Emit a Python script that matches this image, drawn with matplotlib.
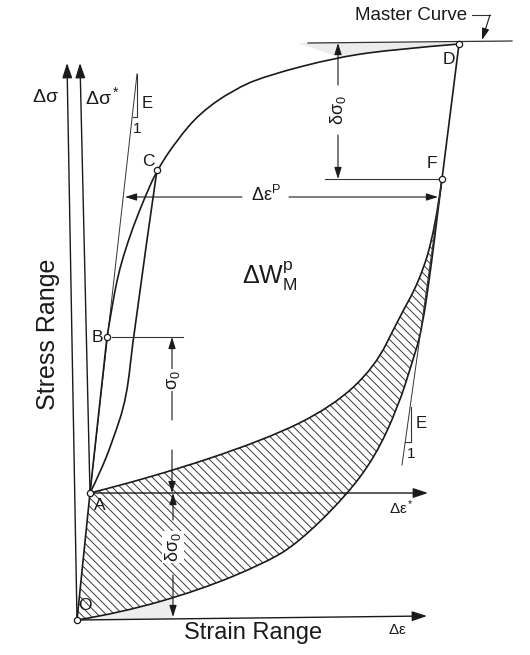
import numpy as np
import matplotlib
matplotlib.use("Agg")
import matplotlib.pyplot as plt
from matplotlib.path import Path
from matplotlib.patches import PathPatch, Polygon

plt.rcParams['font.family'] = ['Liberation Sans', 'DejaVu Sans']
plt.rcParams['mathtext.fontset'] = 'custom'
plt.rcParams['mathtext.rm'] = 'Liberation Sans'
plt.rcParams['mathtext.it'] = 'Liberation Sans'
plt.rcParams['mathtext.default'] = 'regular'
plt.rcParams['hatch.linewidth'] = 0.7

# schematic strain (x) / stress (y) units, origin at O
pt_O = (0, 0)
pt_A = (13, 127)
pt_B = (30, 283)
pt_C = (80, 450)
pt_D = (382, 576)
pt_F = (365, 441)

# master curve B -> C -> D (A -> B is the elastic part)
master_x = [30, 35, 40, 46, 56, 68, 80, 100, 123, 156, 188, 261, 321, 382]
master_y = [283, 313, 340, 363, 393, 423, 450, 480, 507, 530, 544, 563, 571, 576]
# unloading line from C back to A
unload_x = [80, 56, 50, 36, 23, 13]
unload_y = [450, 283, 223, 180, 147, 127]
# upper loop branch A -> F
upper_x = [13, 73, 188, 255, 298, 321, 343, 358, 365]
upper_y = [127, 142, 180, 213, 253, 300, 340, 390, 441]
# lower loop branch O -> F
lower_x = [0, 43, 123, 188, 221, 268, 298, 321, 335, 345, 355, 361, 365]
lower_y = [0, 7, 30, 57, 77, 123, 163, 213, 257, 290, 360, 410, 441]

tangent_x = [231, 435]
tangent_y = [577, 579]
elastic_top = (60, 546)
elastic_low = (325, 155)

fig = plt.figure(figsize=(5.3, 6.55), dpi=100)
ax = fig.add_axes([0, 0, 1, 1])
ax.set_xlim(-77, 453)
ax.set_ylim(-35, 620)
ax.axis('off')


def bez(xs, ys):
    pts = np.column_stack([xs, ys]).astype(float)
    verts = [pts[0]]
    codes = [Path.MOVETO]
    if len(pts) == 2:
        return verts + [pts[1]], codes + [Path.LINETO]
    for i in range(1, len(pts) - 1):
        end = pts[i + 1] if i == len(pts) - 2 else (pts[i] + pts[i + 1]) / 2
        verts += [pts[i], end]
        codes += [Path.CURVE3, Path.CURVE3]
    return verts, codes


def curve(xs, ys, lw=1.2, color='#1a1a1a'):
    v, c = bez(xs, ys)
    ax.add_patch(PathPatch(Path(v, c), fill=False, lw=lw, ec=color, zorder=3))


def arrow(p0, p1, lw=1.0, hl=0.9, hw=0.3):
    ax.annotate('', xy=p1, xytext=p0,
                arrowprops=dict(arrowstyle=f'-|>,head_length={hl},head_width={hw}',
                                lw=lw, color='#1a1a1a', shrinkA=0, shrinkB=0),
                zorder=3)


# light shading wedges near D and near O
v1, c1 = bez(master_x[-3:][::-1], master_y[-3:][::-1])
v = [(221, 577), (382, 577)] + v1[1:] + [(221, 577)]
c = [Path.MOVETO, Path.LINETO] + c1[1:] + [Path.LINETO]
ax.add_patch(PathPatch(Path(v, c), fc='#ececec', ec='none', zorder=1))
ax.add_patch(Polygon([(0, 0), (96, 1.1), (96, 22), (43, 7)], closed=True,
                     fc='#eeeeee', ec='none', zorder=1))

# hatched loop: O -> A -> F (upper) -> O (lower)
vu, cu = bez(upper_x, upper_y)
vl, cl = bez(lower_x[::-1], lower_y[::-1])
v = [pt_O, pt_A] + vu[1:] + vl[1:] + [pt_O]
c = [Path.MOVETO, Path.LINETO] + cu[1:] + cl[1:] + [Path.CLOSEPOLY]
ax.add_patch(PathPatch(Path(v, c), fc='none', ec='#3a3a3a', lw=0,
                       hatch='\\\\\\\\', zorder=2))
curve(upper_x, upper_y)
curve(lower_x, lower_y)
ax.plot([pt_O[0], pt_A[0]], [pt_O[1], pt_A[1]], color='#1a1a1a', lw=1.2, zorder=3)

# axes of the diagram
arrow(pt_O, (-10, 557))
arrow(pt_A, (3, 557))
arrow(pt_O, (350, 4))
arrow(pt_A, (351, 127))

# elastic lines with slope triangles
ax.plot([pt_A[0], elastic_top[0]], [pt_A[1], elastic_top[1]], color='#333', lw=0.7, zorder=3)
ax.plot([60, 60, 56], [546, 503, 503], color='#333', lw=0.8, zorder=3)
ax.plot([pt_F[0], elastic_low[0]], [pt_F[1], elastic_low[1]], color='#333', lw=0.7, zorder=3)
ax.plot([334, 334, 328], [213, 178, 178], color='#333', lw=0.8, zorder=3)

# curves
ax.plot([pt_A[0], pt_B[0]], [pt_A[1], pt_B[1]], color='#1a1a1a', lw=1.2, zorder=3)
curve(master_x, master_y)
curve(unload_x, unload_y)
ax.plot(tangent_x, tangent_y, color='#333', lw=0.9, zorder=3)
ax.plot([pt_D[0], pt_F[0]], [pt_D[1], pt_F[1]], color='#1a1a1a', lw=1.2, zorder=3)

# dimension lines
ax.plot([pt_B[0] + 5, 106], [283, 283], color='#333', lw=0.8, zorder=3)
ax.plot([248, pt_F[0] - 4], [441, 441], color='#333', lw=0.8, zorder=3)
arrow((95, 200), (95, 283), lw=0.8, hl=0.7, hw=0.22)
arrow((95, 170), (95, 127), lw=0.8, hl=0.7, hw=0.22)
arrow((96, 100), (96, 127), lw=0.8, hl=0.7, hw=0.22)
arrow((96, 45), (96, 3), lw=0.8, hl=0.7, hw=0.22)
arrow((261, 535), (261, 577), lw=0.8, hl=0.7, hw=0.22)
arrow((261, 485), (261, 441), lw=0.8, hl=0.7, hw=0.22)
arrow((165, 423), (48, 423), lw=0.8, hl=0.7, hw=0.22)
arrow((212, 423), (361, 423), lw=0.8, hl=0.7, hw=0.22)

# points
for p in [pt_O, pt_A, pt_B, pt_C, pt_D, pt_F]:
    ax.plot(*p, 'o', ms=4.5, mfc='white', mec='#1a1a1a', mew=0.9, zorder=5)

# master curve pointer
ax.plot([395, 413], [605, 605], color='#333', lw=0.8, zorder=3)
arrow((413, 605), (405, 580), lw=0.8, hl=0.7, hw=0.22)

tk = dict(color='#1a1a1a', zorder=6)
ax.text(-32, 523, r'$\Delta\sigma$', fontsize=14, ha='center', va='center', **tk)
ax.text(25, 523, r'$\Delta\sigma^*$', fontsize=14, ha='center', va='center', **tk)
ax.text(70, 517, 'E', fontsize=12, ha='center', va='center', **tk)
ax.text(60, 491, '1', fontsize=11, ha='center', va='center', **tk)
ax.text(71, 459, 'C', fontsize=12.5, ha='center', va='center', **tk)
ax.text(20, 283, 'B', fontsize=12.5, ha='center', va='center', **tk)
ax.text(23, 114, 'A', fontsize=12.5, ha='center', va='center', **tk)
ax.text(8, 15, 'O', fontsize=12.5, ha='center', va='center', **tk)
ax.text(372, 561, 'D', fontsize=12.5, ha='center', va='center', **tk)
ax.text(355, 456, 'F', fontsize=12.5, ha='center', va='center', **tk)
ax.text(344, 197, 'E', fontsize=12, ha='center', va='center', **tk)
ax.text(334, 166, '1', fontsize=11, ha='center', va='center', **tk)
ax.text(193, 344, r'$\Delta W_M^p$', fontsize=18, ha='center', va='center', **tk)
ax.text(-29, 286, 'Stress Range', fontsize=18, rotation=90, ha='center', va='center', **tk)
ax.text(176, -13, 'Strain Range', fontsize=17, ha='center', va='center', **tk)
ax.text(320, -10, r'$\Delta\epsilon$', fontsize=11, ha='center', va='center', **tk)
ax.text(324, 112, r'$\Delta\epsilon^*$', fontsize=11, ha='center', va='center', **tk)
ax.text(334, 605, 'Master Curve', fontsize=13.5, ha='center', va='center', **tk)
ax.text(189, 425, r'$\Delta\epsilon^P$', fontsize=13, ha='center', va='center', **tk)

wb = dict(fc='white', ec='none', pad=1.0)
ax.text(96, 240, r'$\sigma_0$', fontsize=13, rotation=90, ha='center', va='center',
        bbox=wb, **tk)
ax.text(96, 73, r'$\delta\sigma_0$', fontsize=13, rotation=90, ha='center', va='center',
        bbox=wb, **tk)
ax.text(261, 510, r'$\delta\sigma_0$', fontsize=13, rotation=90, ha='center', va='center',
        bbox=wb, **tk)

fig.savefig('out.png', dpi=100, facecolor='white')
